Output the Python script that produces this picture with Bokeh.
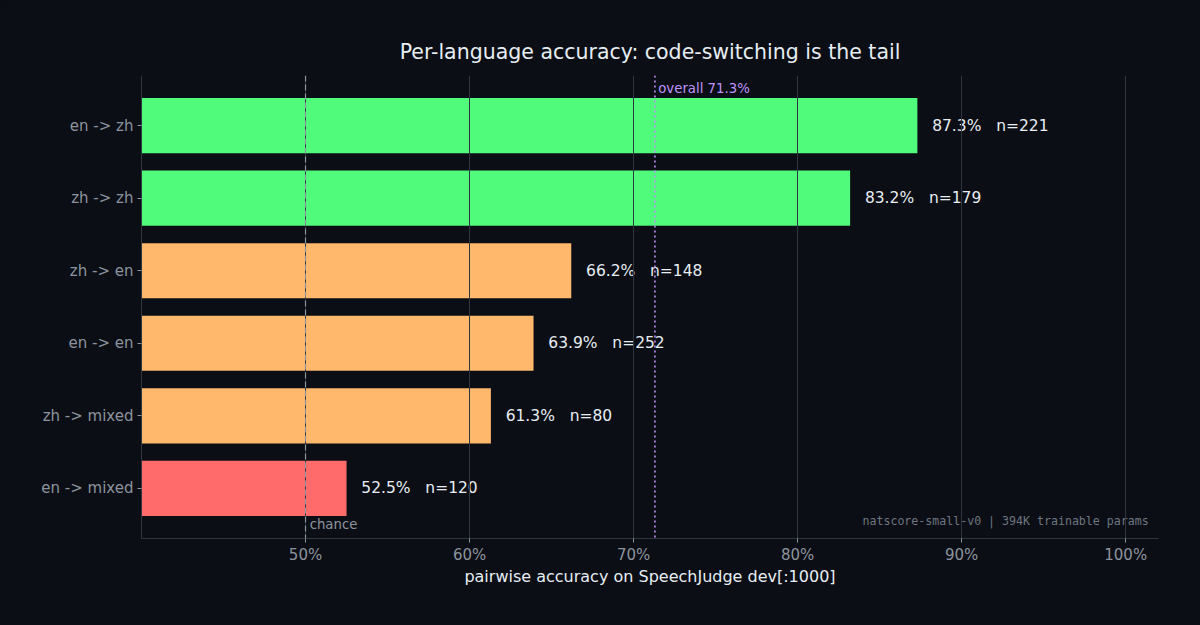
from bokeh.plotting import figure
from bokeh.models import ColumnDataSource, Span, FixedTicker, PrintfTickFormatter, Range1d, FactorRange
from bokeh.core.properties import value
from bokeh.embed import file_html
from bokeh.resources import INLINE

# ---- data ----
pairs = ["en -> zh", "zh -> zh", "zh -> en", "en -> en", "zh -> mixed", "en -> mixed"]
accuracy = [87.3, 83.2, 66.2, 63.9, 61.3, 52.5]
counts = [221, 179, 148, 252, 80, 120]
tiers = ["good", "good", "mid", "mid", "mid", "bad"]
overall = 71.3
chance = 50.0
x_ticks = [50, 60, 70, 80, 90, 100]

tier_colors = {"good": "#50fa7b", "mid": "#ffb86c", "bad": "#ff6b6b"}

BG = "#0b0e14"
FG = "#e6edf3"
MUTED = "#8b949e"
GRID = "#30363d"
FONT = "DejaVu Sans"
NB = "\u00a0"

labels = [f"{a:.1f}%{NB*3}n={n}" for a, n in zip(accuracy, counts)]
src = ColumnDataSource(dict(
    pair=pairs,
    acc=accuracy,
    color=[tier_colors[t] for t in tiers],
    lab=labels,
    lab_x=[a + 0.9 for a in accuracy],
))

p = figure(
    width=1200, height=625,
    y_range=FactorRange(factors=list(reversed(pairs)), range_padding=0.19, range_padding_units="absolute"),
    x_range=Range1d(40, 102),
    output_backend="svg", toolbar_location=None,
    min_border_left=141, min_border_right=42, min_border_top=75, min_border_bottom=87,
    title="Per-language accuracy: code-switching is the tail",
)
p.background_fill_color = None
p.border_fill_color = BG
p.outline_line_color = None

p.title.align = "center"
p.title.text_color = FG
p.title.text_font = FONT
p.title.text_font_size = "20.5px"
p.title.text_font_style = "normal"
p.title.standoff = 23

p.hbar(y="pair", left=40, right="acc", height=0.76, color="color", line_color=None, source=src)

# grid
p.ygrid.visible = False
p.xgrid.ticker = FixedTicker(ticks=x_ticks)
p.xgrid.grid_line_color = GRID
p.xgrid.grid_line_width = 1
p.xgrid.level = "glyph"

# axes
p.xaxis.ticker = FixedTicker(ticks=x_ticks)
p.xaxis.formatter = PrintfTickFormatter(format="%d%%")
for ax in (p.xaxis, p.yaxis):
    ax.axis_line_color = GRID
    ax.major_tick_line_color = MUTED
    ax.major_tick_in = 0
    ax.major_tick_out = 4
    ax.minor_tick_line_color = None
    ax.major_label_text_color = MUTED
    ax.major_label_text_font = FONT
    ax.major_label_text_font_size = "15px"
p.yaxis.major_label_standoff = 4
p.xaxis.major_label_standoff = 3
p.xaxis.axis_label = "pairwise accuracy on SpeechJudge dev[:1000]"
p.xaxis.axis_label_text_color = FG
p.xaxis.axis_label_text_font = FONT
p.xaxis.axis_label_text_font_size = "16px"
p.xaxis.axis_label_text_font_style = "normal"
p.xaxis.axis_label_standoff = 0

# reference lines
p.add_layout(Span(location=chance, dimension="height", line_color=MUTED, line_width=1.2, line_dash="6 3"))
p.add_layout(Span(location=overall, dimension="height", line_color="#bd93f9", line_width=1.6, line_dash="2 3"))

# value labels
p.text(x="lab_x", y="pair", text="lab", source=src, text_color=FG, text_font=value(FONT),
       text_font_size="15.5px", text_baseline="middle", text_align="left")

p.text(x=[chance + 0.25], y=[pairs[-1]], text=["chance"], y_offset=36, text_color=MUTED,
       text_font=value(FONT), text_font_size="13.3px", text_baseline="middle")
p.text(x=[overall + 0.2], y=[pairs[0]], text=[f"overall {overall:.1f}%"], y_offset=-37, text_color="#bd93f9",
       text_font=value(FONT), text_font_size="13.3px", text_baseline="middle")
p.text(x=[101.4], y=[pairs[-1]], text=["natscore-small-v0 | 394K trainable params"], y_offset=33,
       text_color="#6e7681", text_font=value("DejaVu Sans Mono"), text_font_size="11.6px",
       text_baseline="middle", text_align="right")

html = file_html(p, INLINE)
html = html.replace("<head>", "<head><style>html,body{margin:0;padding:0;background:%s;overflow:hidden}</style>" % BG, 1)
open("out.html", "w").write(html)
